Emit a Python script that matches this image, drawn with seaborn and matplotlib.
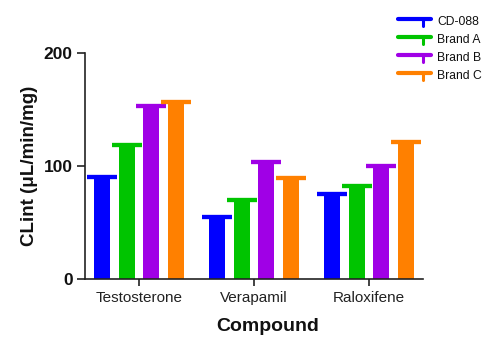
import pandas as pd
import numpy as np
import seaborn as sns
import matplotlib.pyplot as plt
from matplotlib.legend_handler import HandlerBase
from matplotlib.lines import Line2D

# values
compounds = ['Testosterone', 'Verapamil', 'Raloxifene']
groups = ['CD-088', 'Brand A', 'Brand B', 'Brand C']
cd088 = [90, 55, 75]
brand_a = [119, 70, 82]
brand_b = [153, 104, 100]
brand_c = [157, 89, 121]
colors = ['#0000FF', '#00C400', '#A000E6', '#FF8000']

df = pd.DataFrame({
    'Compound': compounds * 4,
    'group': [g for g in groups for _ in compounds],
    'CLint': cd088 + brand_a + brand_b + brand_c,
})

sns.set_style('ticks')
plt.rcParams['font.family'] = ['Liberation Sans', 'DejaVu Sans']
plt.rcParams['text.color'] = '#111111'
plt.rcParams['axes.labelcolor'] = '#111111'
plt.rcParams['xtick.labelcolor'] = '#222222'
plt.rcParams['ytick.labelcolor'] = '#111111'

fig = plt.figure(figsize=(5, 3.54), dpi=100)
ax = fig.add_axes([0.17, 0.212, 0.676, 0.638])

sns.barplot(data=df, x='Compound', y='CLint', hue='group', hue_order=groups,
            palette=colors, width=0.85, gap=0.35, errorbar=None,
            linewidth=0, saturation=1, ax=ax, legend=False)

# the flat "T" caps on top of each bar
bar_sets = list(ax.containers)
for i, container in enumerate(bar_sets):
    for bar in container:
        xc = bar.get_x() + bar.get_width() / 2
        h = bar.get_height()
        ax.errorbar(xc, h, yerr=[[0], [0]], color=colors[i], capsize=11,
                    capthick=3, elinewidth=0, zorder=3)

ax.set_ylim(0, 200)
ax.set_yticks([0, 100, 200])
ax.set_xlim(-0.47, 2.47)
ax.spines[['top', 'right']].set_visible(False)
for s in ['left', 'bottom']:
    ax.spines[s].set_linewidth(1.2)
    ax.spines[s].set_color('#222222')
ax.tick_params(axis='y', length=5.5, width=1.2, labelsize=12.5, color='#222222')
ax.tick_params(axis='x', length=5, width=1.2, labelsize=11, color='#222222')
for t in ax.get_yticklabels():
    t.set_fontweight('bold')

ax.set_ylabel('CLint (\u03bcL/min/mg)', fontsize=13.5, fontweight='bold', labelpad=4)
ax.set_xlabel('Compound', fontsize=14, fontweight='bold')
ax.xaxis.set_label_coords(0.541, -0.175)


class CapHandler(HandlerBase):
    def create_artists(self, legend, orig_handle, xdescent, ydescent,
                       width, height, fontsize, trans):
        c = orig_handle.get_color()
        y = height * 0.75
        top = Line2D([0, width], [y, y], color=c, lw=3, transform=trans)
        stem = Line2D([width * 0.75, width * 0.75], [y, -height * 0.1],
                      color=c, lw=2.2, transform=trans)
        return [top, stem]


handles = [Line2D([], [], color=c) for c in colors]
fig.legend(handles, groups, loc='upper left', bbox_to_anchor=(0.775, 0.985),
           frameon=False, fontsize=8.7, handlelength=2.7, handletextpad=0.5,
           labelspacing=0.5, handler_map={Line2D: CapHandler()})

plt.savefig('out.png', dpi=100)
